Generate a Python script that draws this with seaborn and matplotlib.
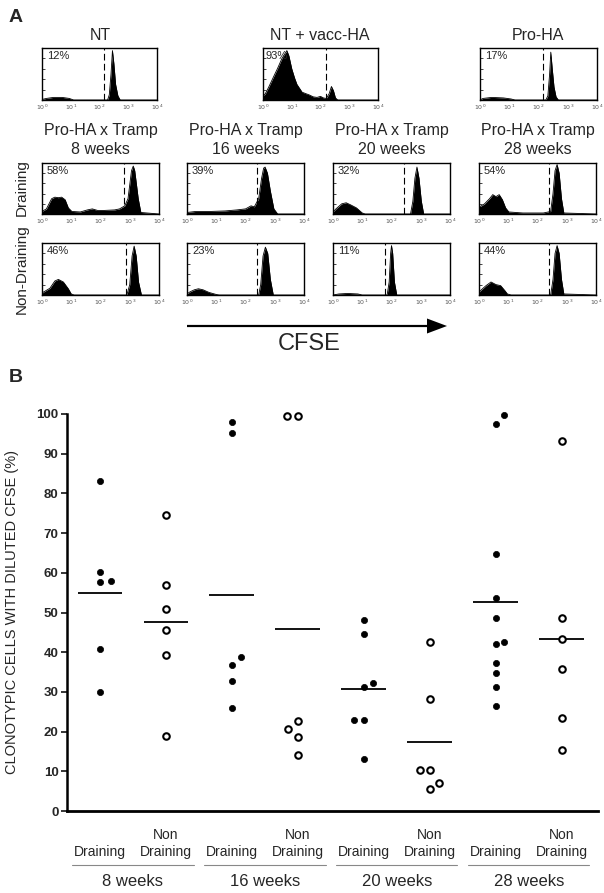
import numpy as np
import pandas as pd
import matplotlib
matplotlib.use("Agg")
import matplotlib.pyplot as plt
import matplotlib.transforms as mtransforms
from matplotlib.patches import FancyArrow
import seaborn as sns

W, H = 604, 893

sns.set_theme(style="white")
plt.rcParams["font.family"] = ["Liberation Sans", "DejaVu Sans"]

# ---------------- panel B data ----------------
weeks = ["8 weeks", "16 weeks", "20 weeks", "28 weeks"]
kinds = ["Draining", "Non Draining"]

w8_drain = [83.0, 60.1, 57.6, 58.0, 40.8, 30.0]
w8_non = [74.5, 57.0, 51.0, 45.5, 39.3, 19.0]
w16_drain = [98.0, 95.1, 38.7, 36.7, 32.7, 25.9]
w16_non = [99.6, 99.6, 22.7, 20.6, 18.7, 14.1]
w20_drain = [48.0, 44.6, 32.3, 31.2, 22.8, 22.8, 13.0]
w20_non = [42.6, 28.3, 10.3, 10.3, 7.1, 5.5]
w28_drain = [99.7, 97.5, 64.7, 53.6, 48.7, 42.5, 42.1, 37.4, 34.8, 31.2, 26.5]
w28_non = [93.2, 48.6, 43.3, 35.7, 23.5, 15.4]

# sideways nudges of overlapping dots (fraction of one category slot)
w8_drain_dx = [0, 0, 0, 0.17, 0, 0]
w8_non_dx = [0, 0, 0, 0, 0, 0]
w16_drain_dx = [0, 0, 0.14, 0, 0, 0]
w16_non_dx = [-0.17, 0, 0, -0.15, 0, 0]
w20_drain_dx = [0, 0, 0.14, 0, -0.15, 0, 0]
w20_non_dx = [0, 0, -0.15, 0, 0.14, 0]
w28_drain_dx = [0.13, 0, 0, 0, 0, 0.13, 0, 0, 0, 0, 0]
w28_non_dx = [0, 0, 0, 0, 0, 0]

series = [
    (w8_drain, w8_drain_dx), (w8_non, w8_non_dx),
    (w16_drain, w16_drain_dx), (w16_non, w16_non_dx),
    (w20_drain, w20_drain_dx), (w20_non, w20_non_dx),
    (w28_drain, w28_drain_dx), (w28_non, w28_non_dx),
]

rows = []
for slot, (vals, dxs) in enumerate(series):
    for v, dx in zip(vals, dxs):
        rows.append({"slot": slot, "pos": slot + dx, "pct": v,
                     "kind": kinds[slot % 2], "week": weeks[slot // 2]})
df = pd.DataFrame(rows)
means = df.groupby("slot")["pct"].mean()

# ---------------- panel A data (histogram outlines, log10 decades) ----------------
hist_nt_x = [0.0, 0.15, 0.4, 0.7, 0.95, 1.1, 2.28, 2.34, 2.40, 2.45, 2.50, 2.56, 2.64, 2.72, 4.0]
hist_nt_y = [0.01, 0.03, 0.05, 0.05, 0.03, 0.0, 0.0, 0.1, 0.5, 0.95, 0.7, 0.3, 0.08, 0.0, 0.0]
hist_vacc_x = [0.0, 0.08, 0.2, 0.37, 0.5, 0.66, 0.75, 0.83, 0.9, 1.0, 1.1, 1.18, 1.36, 1.5,
               1.6, 1.75, 1.88, 2.0, 2.1, 2.2, 2.3, 2.38, 2.45, 2.52, 2.6, 4.0]
hist_vacc_y = [0.08, 0.12, 0.25, 0.45, 0.6, 0.8, 0.88, 0.95, 0.85, 0.6, 0.42, 0.3, 0.15, 0.12,
               0.1, 0.06, 0.05, 0.07, 0.04, 0.03, 0.12, 0.26, 0.18, 0.04, 0.0, 0.0]
hist_pro_x = [0.0, 0.1, 0.4, 0.8, 1.06, 1.2, 2.25, 2.32, 2.38, 2.42, 2.47, 2.53, 2.6, 2.68, 4.0]
hist_pro_y = [0.0, 0.03, 0.05, 0.04, 0.02, 0.0, 0.0, 0.08, 0.5, 0.92, 0.6, 0.25, 0.06, 0.0, 0.0]

hist_8d_x = [0.0, 0.15, 0.33, 0.44, 0.56, 0.67, 0.79, 0.9, 1.02, 1.31, 1.55, 1.72, 1.9, 2.13,
             2.48, 2.65, 2.83, 2.94, 3.06, 3.12, 3.17, 3.29, 3.38, 4.0]
hist_8d_y = [0.05, 0.1, 0.3, 0.33, 0.32, 0.33, 0.28, 0.12, 0.05, 0.04, 0.08, 0.1, 0.07, 0.07,
             0.08, 0.1, 0.16, 0.3, 0.85, 0.94, 0.85, 0.3, 0.03, 0.0]
hist_8n_x = [0.0, 0.03, 0.27, 0.44, 0.56, 0.73, 0.9, 1.0, 1.1, 2.9, 3.0, 3.08, 3.15, 3.22, 3.3, 3.4, 4.0]
hist_8n_y = [0.02, 0.05, 0.13, 0.27, 0.3, 0.25, 0.12, 0.02, 0.0, 0.0, 0.2, 0.75, 0.94, 0.75, 0.25, 0.0, 0.0]
hist_16d_x = [0.0, 0.3, 0.8, 1.3, 1.7, 2.0, 2.19, 2.3, 2.45, 2.55, 2.62, 2.67, 2.75, 2.85, 2.97, 3.1, 4.0]
hist_16d_y = [0.03, 0.05, 0.05, 0.06, 0.08, 0.1, 0.16, 0.14, 0.3, 0.7, 0.9, 0.92, 0.8, 0.45, 0.1, 0.0, 0.0]
hist_16n_x = [0.0, 0.1, 0.25, 0.39, 0.55, 0.75, 1.0, 1.1, 2.45, 2.52, 2.6, 2.68, 2.76, 2.85, 2.95, 4.0]
hist_16n_y = [0.02, 0.06, 0.1, 0.12, 0.1, 0.05, 0.01, 0.0, 0.0, 0.2, 0.75, 0.92, 0.8, 0.3, 0.0, 0.0]
hist_20d_x = [0.0, 0.1, 0.3, 0.45, 0.6, 0.8, 1.0, 1.1, 2.65, 2.73, 2.8, 2.87, 2.94, 3.02, 3.1, 4.0]
hist_20d_y = [0.04, 0.1, 0.2, 0.22, 0.18, 0.12, 0.02, 0.0, 0.0, 0.25, 0.7, 0.92, 0.7, 0.25, 0.0, 0.0]
hist_20n_x = [0.0, 0.2, 0.5, 0.85, 1.0, 1.85, 1.92, 1.97, 2.0, 2.04, 2.1, 2.18, 4.0]
hist_20n_y = [0.0, 0.02, 0.03, 0.02, 0.0, 0.0, 0.25, 0.8, 0.95, 0.8, 0.25, 0.0, 0.0]
hist_28d_x = [0.0, 0.05, 0.19, 0.36, 0.47, 0.58, 0.69, 0.8, 0.91, 1.02, 1.5, 2.2, 2.45, 2.53,
              2.6, 2.67, 2.74, 2.82, 2.9, 4.0]
hist_28d_y = [0.15, 0.15, 0.2, 0.3, 0.38, 0.34, 0.38, 0.28, 0.12, 0.04, 0.02, 0.02, 0.05, 0.4,
              0.85, 0.97, 0.8, 0.3, 0.02, 0.0]
hist_28n_x = [0.0, 0.08, 0.24, 0.41, 0.58, 0.74, 0.89, 0.97, 1.1, 2.45, 2.53, 2.6, 2.67, 2.74, 2.82, 2.9, 4.0]
hist_28n_y = [0.05, 0.1, 0.18, 0.25, 0.2, 0.18, 0.08, 0.02, 0.0, 0.0, 0.3, 0.8, 0.95, 0.8, 0.3, 0.02, 0.0]

gates = {"nt": 2.17, "vacc": 2.18, "pro": 2.15, "8d": 2.8, "8n": 2.86, "16d": 2.41,
         "16n": 2.41, "20d": 2.43, "20n": 1.78, "28d": 2.41, "28n": 2.41}
percents = {"nt": "12%", "vacc": "93%", "pro": "17%", "8d": "58%", "8n": "46%", "16d": "39%",
            "16n": "23%", "20d": "32%", "20n": "11%", "28d": "54%", "28n": "44%"}
curves = {"nt": (hist_nt_x, hist_nt_y), "vacc": (hist_vacc_x, hist_vacc_y),
          "pro": (hist_pro_x, hist_pro_y), "8d": (hist_8d_x, hist_8d_y),
          "8n": (hist_8n_x, hist_8n_y), "16d": (hist_16d_x, hist_16d_y),
          "16n": (hist_16n_x, hist_16n_y), "20d": (hist_20d_x, hist_20d_y),
          "20n": (hist_20n_x, hist_20n_y), "28d": (hist_28d_x, hist_28d_y),
          "28n": (hist_28n_x, hist_28n_y)}

fig = plt.figure(figsize=(W / 100, H / 100), dpi=100)


def px_axes(x0, y0, x1, y1):
    return fig.add_axes([x0 / W, 1 - y1 / H, (x1 - x0) / W, (y1 - y0) / H])


def histo(key, x0, y0, x1, y1):
    ax = px_axes(x0, y0, x1, y1)
    hx, hy = curves[key]
    ax.fill_between(hx, hy, 0, color="black", lw=0)
    ax.plot(hx, hy, color="black", lw=0.6)
    ax.axvline(gates[key], color="black", lw=0.8, ls=(0, (6, 3)))
    ax.set_xlim(0, 4)
    ax.set_ylim(0, 1)
    ax.set_xticks([0, 1, 2, 3, 4])
    ax.set_xticklabels([r"$10^{%d}$" % i for i in range(5)], fontsize=4.5, color="#555555")
    ax.set_yticks([0.2, 0.4, 0.6, 0.8])
    ax.set_yticklabels([])
    ax.tick_params(axis="x", length=0, pad=2)
    ax.tick_params(axis="y", direction="in", length=2, width=0.6, left=True)
    for s in ax.spines.values():
        s.set_visible(True)
        s.set_color("black")
        s.set_linewidth(1.0)
    inset = 2 if key == "vacc" else 5
    ax.text(inset / (x1 - x0), 1 - 8 / (y1 - y0), percents[key], transform=ax.transAxes,
            ha="left", va="center", fontsize=8)
    return ax


# top row
histo("nt", 42, 48, 157, 100)
histo("vacc", 263, 48, 378, 100)
histo("pro", 480, 48, 597, 100)
# TRAMP grid
col_left = [42, 187, 333, 479]
for i, wk in enumerate(["8", "16", "20", "28"]):
    histo(wk + "d", col_left[i], 163, col_left[i] + 117, 214)
    histo(wk + "n", col_left[i], 243, col_left[i] + 117, 295)

# ---------------- panel B ----------------
axB = px_axes(67, 414, 598, 811)
draining = df[df["kind"] == "Draining"]
nondrain = df[df["kind"] == "Non Draining"]
sns.scatterplot(data=draining, x="pos", y="pct", color="black", edgecolor="black",
                s=20, linewidth=0.5, ax=axB, legend=False, clip_on=False, zorder=3)
sns.scatterplot(data=nondrain, x="pos", y="pct", color="white", edgecolor="black",
                s=22, linewidth=1.5, ax=axB, legend=False, clip_on=False, zorder=3)
axB.hlines(means.values, means.index - 0.34, means.index + 0.34, color="black", lw=1.3, zorder=2)
axB.set_xlim(-0.5, 7.55)
axB.set_ylim(0, 100)
axB.set_yticks(range(0, 101, 10))
axB.set_yticklabels([str(v) for v in range(0, 101, 10)], fontsize=9.5, fontweight="bold")
axB.set_xticks([])
axB.set_xlabel("")
axB.set_ylabel("")
axB.tick_params(axis="y", direction="out", length=4, width=1.3, left=True, pad=2)
for side in ["top", "right"]:
    axB.spines[side].set_visible(False)
axB.spines["left"].set_linewidth(1.8)
axB.spines["bottom"].set_linewidth(2.0)
axB.spines["left"].set_color("black")
axB.spines["bottom"].set_color("black")

# ---------------- overlay for text and arrow (pixel coordinates) ----------------
ov = fig.add_axes([0, 0, 1, 1])
ov.set_xlim(0, W)
ov.set_ylim(H, 0)
ov.axis("off")

ov.text(15.5, 17, "A", fontsize=14, fontweight="bold", ha="center", va="center")
ov.text(16, 377, "B", fontsize=14, fontweight="bold", ha="center", va="center")

ov.text(100, 35, "NT", fontsize=11.5, ha="center", va="center")
ov.text(320, 35, "NT + vacc-HA", fontsize=11.5, ha="center", va="center")
ov.text(538, 35, "Pro-HA", fontsize=11.5, ha="center", va="center")
for i, wk in enumerate(["8", "16", "20", "28"]):
    cx = col_left[i] + 58.5
    ov.text(cx, 130, "Pro-HA x Tramp", fontsize=11.5, ha="center", va="center")
    ov.text(cx, 149, wk + " weeks", fontsize=11.5, ha="center", va="center")
ov.text(22, 188, "Draining", fontsize=11, rotation=90, ha="center", va="center")
ov.text(22, 269, "Non-Draining", fontsize=11, rotation=90, ha="center", va="center")

ov.add_patch(FancyArrow(187, 326, 260, 0, width=2.2, head_width=15, head_length=20,
                        length_includes_head=True, color="black", lw=0))
ov.text(309, 344, "CFSE", fontsize=17, ha="center", va="center")

ov.text(12, 612, "CLONOTYPIC CELLS WITH DILUTED CFSE (%)", fontsize=10.5,
        rotation=90, ha="center", va="center")

trans = mtransforms.blended_transform_factory(axB.transData, ov.transData)
for slot in range(8):
    ax_text_kw = dict(transform=trans, fontsize=10, ha="center", va="center")
    axB.text(slot, 852, "Draining", **ax_text_kw)
    if slot % 2 == 1:
        axB.text(slot, 835, "Non", **ax_text_kw)
for g, wk in enumerate(weeks):
    axB.plot([2 * g - 0.42, 2 * g + 1.42], [865, 865], transform=trans, color="#888888",
             lw=0.8, clip_on=False)
    axB.text(2 * g + 0.5, 881, wk, transform=trans, fontsize=12, ha="center", va="center")

fig.savefig("out.png", dpi=100)
